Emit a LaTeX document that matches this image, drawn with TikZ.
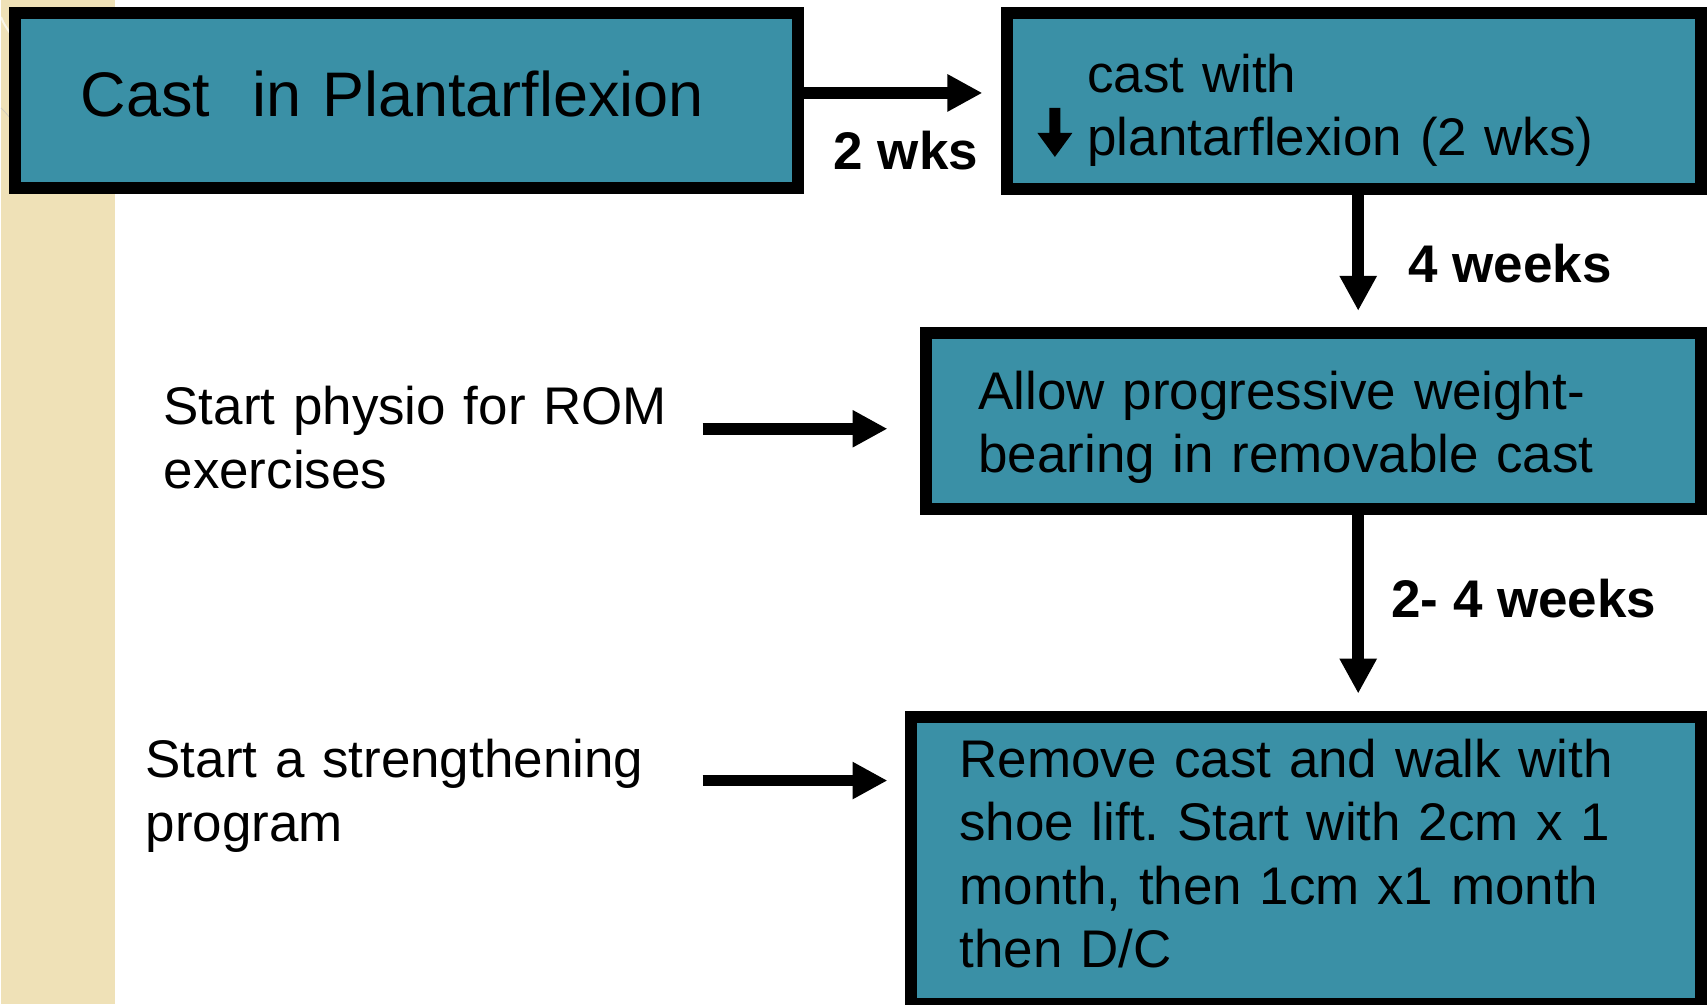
\documentclass[tikz,border=0pt]{standalone}
\usepackage{fontspec}
\setmainfont{Liberation Sans}
\usetikzlibrary{arrows.meta,positioning,calc}

\definecolor{castteal}{RGB}{58,144,166}
\definecolor{slidebeige}{RGB}{239,225,183}
\frenchspacing

\begin{document}
\begin{tikzpicture}[
    x=1pt, y=-1pt,
    stage/.style={rectangle, draw=black, line width=12pt, fill=castteal, align=left, inner ysep=0pt, font=\fontsize{53}{63.5}\selectfont},
    note/.style={align=left, inner sep=0pt, text width=540pt, anchor=base west, font=\fontsize{53}{63.5}\selectfont},
    period/.style={inner sep=0pt, anchor=base west, font=\fontsize{53}{63.5}\selectfont\bfseries},
    flow/.style={line width=11.5pt, -{Triangle[length=35pt,width=35pt]}}
]

% Background
\fill[white] (0,0) rectangle (1707,1005);
\fill[slidebeige] (0,0) rectangle (114,1005);
\draw[white, line width=2pt, opacity=0.7] (0,17) .. controls (3,24) .. (9,33);
\draw[black!25, line width=0.8pt, opacity=0.6] (0,108) .. controls (4,112) .. (9,118);
\useasboundingbox (0,0) rectangle (1707,1005);

% Boxes
\node[stage, minimum width=783pt, minimum height=175pt, text width=651pt, inner xsep=66pt, text depth=13pt, font=\fontsize{63}{76}\selectfont] (cast) at (405.5,100.5) {Cast~~in Plantarflexion};
\node[stage, minimum width=694pt, minimum height=176pt, text width=534pt, inner xsep=80pt, text depth=56pt] (lessen) at (1354,101) {cast with\\plantarflexion (2 wks)};
\node[stage, minimum width=775pt, minimum height=176pt, text width=671pt, inner xsep=52pt, text depth=61pt] (weight) at (1313.5,421) {Allow progressive weight-\\bearing in removable cast};
\node[stage, minimum width=790pt, minimum height=288pt, text width=694pt, inner xsep=48pt, text depth=205pt] (walk) at (1306,861) {Remove cast and walk with\\shoe lift. Start with 2cm x 1\\month, then 1cm x1 month\\then D/C};

% Down arrow in front of plantarflexion
\fill (1049,108) -- (1060,108) -- (1060,133) -- (1072,133) -- (1054.5,157) -- (1037,133) -- (1049,133) -- cycle;

% Side notes
\node[note] (physio) at (162.5,425) {Start physio for ROM\\exercises};
\node[note] (strength) at (144.5,778) {Start a strengthening\\program};

% Arrows
\coordinate (physioout) at (702,429);
\coordinate (strengthout) at (702,781);
\draw[flow, shorten >=19pt] (cast.east |- 0,93) -- (lessen.west |- 0,93);
\draw[flow, shorten >=16pt] (lessen.south -| 1358,0) -- (weight.north -| 1358,0);
\draw[flow, shorten >=17pt] (weight.south -| 1358,0) -- (walk.north -| 1358,0);
\draw[flow, shorten >=33pt] (physioout) -- (weight.west |- physioout);
\draw[flow, shorten >=18pt] (strengthout) -- (walk.west |- strengthout);

% Time labels
\node[period] (twowks) at (833,170) {2 wks};
\node[period] (fourwks) at (1408,283) {4 weeks};
\node[period] (twofourwks) at (1391,618) {2- 4 weeks};

\end{tikzpicture}
\end{document}
